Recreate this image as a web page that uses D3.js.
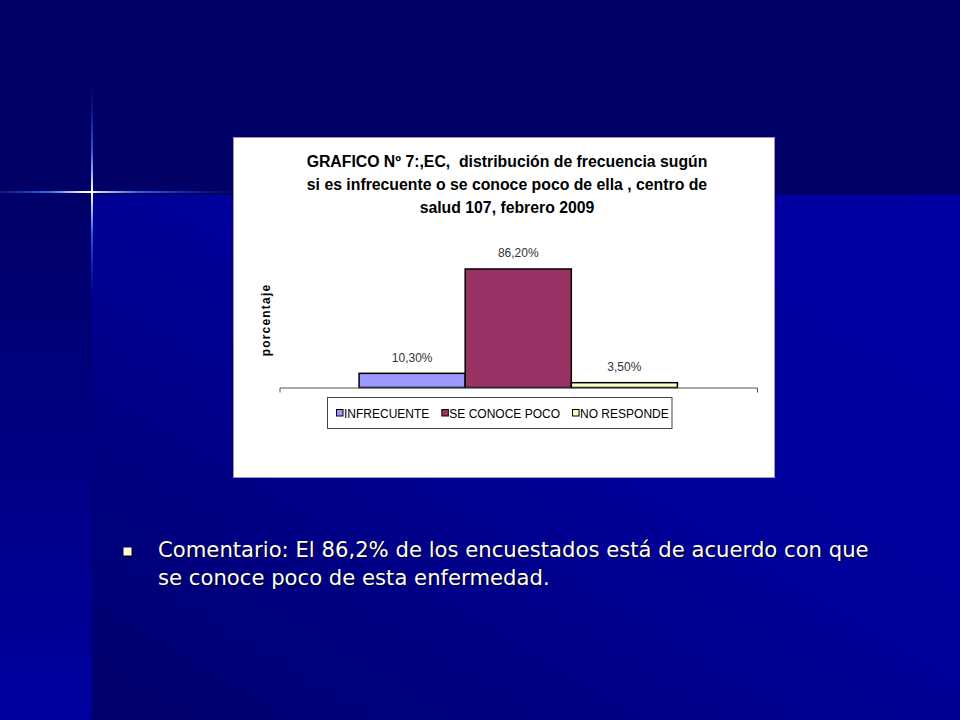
<!DOCTYPE html>
<html>
<head>
<meta charset="utf-8">
<script src="https://cdn.jsdelivr.net/npm/d3@7"></script>
<style>
  html, body { margin: 0; padding: 0; background: #000066; }
  svg { display: block; }
  text { white-space: pre; }
</style>
</head>
<body>
<svg id="chart" width="960" height="720"></svg>
<script>
// ---- data ----
const categories = ["INFRECUENTE", "SE CONOCE POCO", "NO RESPONDE"];
const values = [10.3, 86.2, 3.5];
const seriesColors = ["#9999ff", "#993366", "#ffffcc"];
const titleLines = [
  "GRAFICO Nº 7:,EC,  distribución de frecuencia sugún",
  "si es infrecuente o se conoce poco de ella , centro de",
  "salud 107, febrero 2009"
];
const yAxisTitle = "porcentaje";
const yDomain = [0, 100];
const commentLines = [
  "Comentario: El 86,2% de los encuestados está de acuerdo con que",
  "se conoce poco de esta enfermedad."
];

const svg = d3.select("#chart");
const defs = svg.append("defs");

// ---- background ----
const gMain = defs.append("linearGradient").attr("id", "gMain")
  .attr("x1", "100%").attr("y1", "0%").attr("x2", "0%").attr("y2", "100%");
gMain.append("stop").attr("offset", "0%").attr("stop-color", "#0000a4");
gMain.append("stop").attr("offset", "45%").attr("stop-color", "#00009a");
gMain.append("stop").attr("offset", "100%").attr("stop-color", "#00006c");

const gLeft = defs.append("linearGradient").attr("id", "gLeft")
  .attr("x1", "0").attr("y1", "0").attr("x2", "0").attr("y2", "1");
gLeft.append("stop").attr("offset", "0%").attr("stop-color", "#000068");
gLeft.append("stop").attr("offset", "100%").attr("stop-color", "#0000a0");

svg.append("rect").attr("x", 0).attr("y", 0).attr("width", 960).attr("height", 720).attr("fill", "#000066");
svg.append("rect").attr("x", 92).attr("y", 195).attr("width", 868).attr("height", 525).attr("fill", "url(#gMain)");
svg.append("rect").attr("x", 0).attr("y", 195).attr("width", 92).attr("height", 525).attr("fill", "url(#gLeft)");

// star flare
const gH = defs.append("linearGradient").attr("id", "gH")
  .attr("gradientUnits", "userSpaceOnUse").attr("x1", 0).attr("y1", 0).attr("x2", 232).attr("y2", 0);
[[0, "#1a4fd8", 0.3], [0.22, "#3a7bff", 0.9], [0.36, "#ffffff", 1], [0.38, "#ffffff", 1], [0.6, "#3a7bff", 0.8], [1, "#1a3ad0", 0.1]]
  .forEach(s => gH.append("stop").attr("offset", s[0]).attr("stop-color", s[1]).attr("stop-opacity", s[2]));
const gV = defs.append("linearGradient").attr("id", "gV")
  .attr("gradientUnits", "userSpaceOnUse").attr("x1", 0).attr("y1", 85).attr("x2", 0).attr("y2", 300);
[[0, "#1a3ad0", 0.0], [0.3, "#2f6cff", 0.8], [0.49, "#ffffff", 1], [0.51, "#ffffff", 1], [0.7, "#2f6cff", 0.8], [1, "#1a3ad0", 0.0]]
  .forEach(s => gV.append("stop").attr("offset", s[0]).attr("stop-color", s[1]).attr("stop-opacity", s[2]));
svg.append("rect").attr("x", 0).attr("y", 191).attr("width", 232).attr("height", 2).attr("fill", "url(#gH)");
svg.append("rect").attr("x", 91).attr("y", 85).attr("width", 2).attr("height", 215).attr("fill", "url(#gV)");

// ---- chart box ----
svg.append("rect").attr("x", 233.5).attr("y", 137.5).attr("width", 541).attr("height", 340)
  .attr("fill", "#ffffff").attr("stroke", "#9a9ab0").attr("stroke-width", 1);

// title
const title = svg.append("text")
  .attr("font-family", "'Liberation Sans', Arial, sans-serif")
  .attr("font-size", 15.8).attr("font-weight", "bold").attr("fill", "#000")
  .attr("text-anchor", "middle");
const titleBaselines = [166.5, 190, 212.5];
titleLines.forEach((t, i) => {
  title.append("tspan").attr("x", 507).attr("y", titleBaselines[i]).text(t);
});

// scales
const plot = { left: 279.5, right: 757, top: 250, bottom: 387.5 };
const x0 = d3.scaleBand().domain([""]).range([plot.left, plot.right]).padding(0.2);
const x1 = d3.scaleBand().domain(categories).range([0, x0.bandwidth()]);
const y = d3.scaleLinear().domain(yDomain).range([plot.bottom, plot.top]);

// bars
const g = svg.append("g").attr("transform", `translate(${x0("")},0)`);
g.selectAll("rect.bar").data(categories).join("rect")
  .attr("class", "bar")
  .attr("x", d => x1(d))
  .attr("y", (d, i) => y(values[i]))
  .attr("width", x1.bandwidth())
  .attr("height", (d, i) => y(0) - y(values[i]))
  .attr("fill", (d, i) => seriesColors[i])
  .attr("stroke", "#000").attr("stroke-width", 1.5);

// value labels
const fmt = v => d3.format(".2f")(v).replace(".", ",") + "%";
g.selectAll("text.val").data(categories).join("text")
  .attr("class", "val")
  .attr("x", d => x1(d) + x1.bandwidth() / 2)
  .attr("y", (d, i) => y(values[i]) - 11.5)
  .attr("text-anchor", "middle")
  .attr("font-family", "'Liberation Sans', Arial, sans-serif")
  .attr("font-size", 12).attr("fill", "#333")
  .text((d, i) => fmt(values[i]));

// x axis (baseline with end ticks)
const xAxis = svg.append("g").attr("transform", `translate(0,${plot.bottom})`)
  .call(d3.axisBottom(x0).tickSize(0).tickSizeOuter(5).tickFormat(""));
xAxis.select(".domain").attr("stroke", "#555").attr("stroke-width", 1);

// y axis title
svg.append("text")
  .attr("transform", "translate(269.5,320) rotate(-90)")
  .attr("text-anchor", "middle")
  .attr("font-family", "'Liberation Sans', Arial, sans-serif")
  .attr("font-size", 12).attr("font-weight", "bold").attr("letter-spacing", 1.2)
  .attr("fill", "#000")
  .text(yAxisTitle);

// legend
svg.append("rect").attr("x", 327.5).attr("y", 397.5).attr("width", 344.5).attr("height", 31)
  .attr("fill", "#fff").attr("stroke", "#444").attr("stroke-width", 1);
const leg = svg.append("g");
let lx = 336;
categories.forEach((c, i) => {
  leg.append("rect").attr("x", lx + 0.5).attr("y", 409.5).attr("width", 6.5).attr("height", 6.5)
    .attr("fill", seriesColors[i]).attr("stroke", "#000").attr("stroke-width", 1);
  const t = leg.append("text").attr("x", lx + 8).attr("y", 417.5)
    .attr("font-family", "'Liberation Sans', Arial, sans-serif")
    .attr("font-size", 12).attr("fill", "#000").text(c);
  lx += 8 + t.node().getComputedTextLength() + 12;
});

// ---- comment bullet ----
svg.append("rect").attr("x", 125).attr("y", 549).attr("width", 8).attr("height", 8).attr("fill", "#000033");
svg.append("rect").attr("x", 123.5).attr("y", 547.5).attr("width", 8).attr("height", 8).attr("fill", "#ffffcc");
const commentBaselines = [556.5, 584.5];
const fontFam = "'DejaVu Sans', Verdana, sans-serif";
// fit font size so the first line spans the same width as in the slide
const probe = svg.append("text").attr("font-family", fontFam).attr("font-size", 20).text(commentLines[0]);
const fs = 20 * 711 / probe.node().getComputedTextLength();
probe.remove();
commentLines.forEach((t, i) => {
  svg.append("text").attr("x", 159.5).attr("y", commentBaselines[i] + 1.5)
    .attr("font-family", fontFam).attr("font-size", fs).attr("fill", "#000022").text(t);
  svg.append("text").attr("x", 158).attr("y", commentBaselines[i])
    .attr("font-family", fontFam).attr("font-size", fs).attr("fill", "#ffffff").text(t);
});
</script>
</body>
</html>
